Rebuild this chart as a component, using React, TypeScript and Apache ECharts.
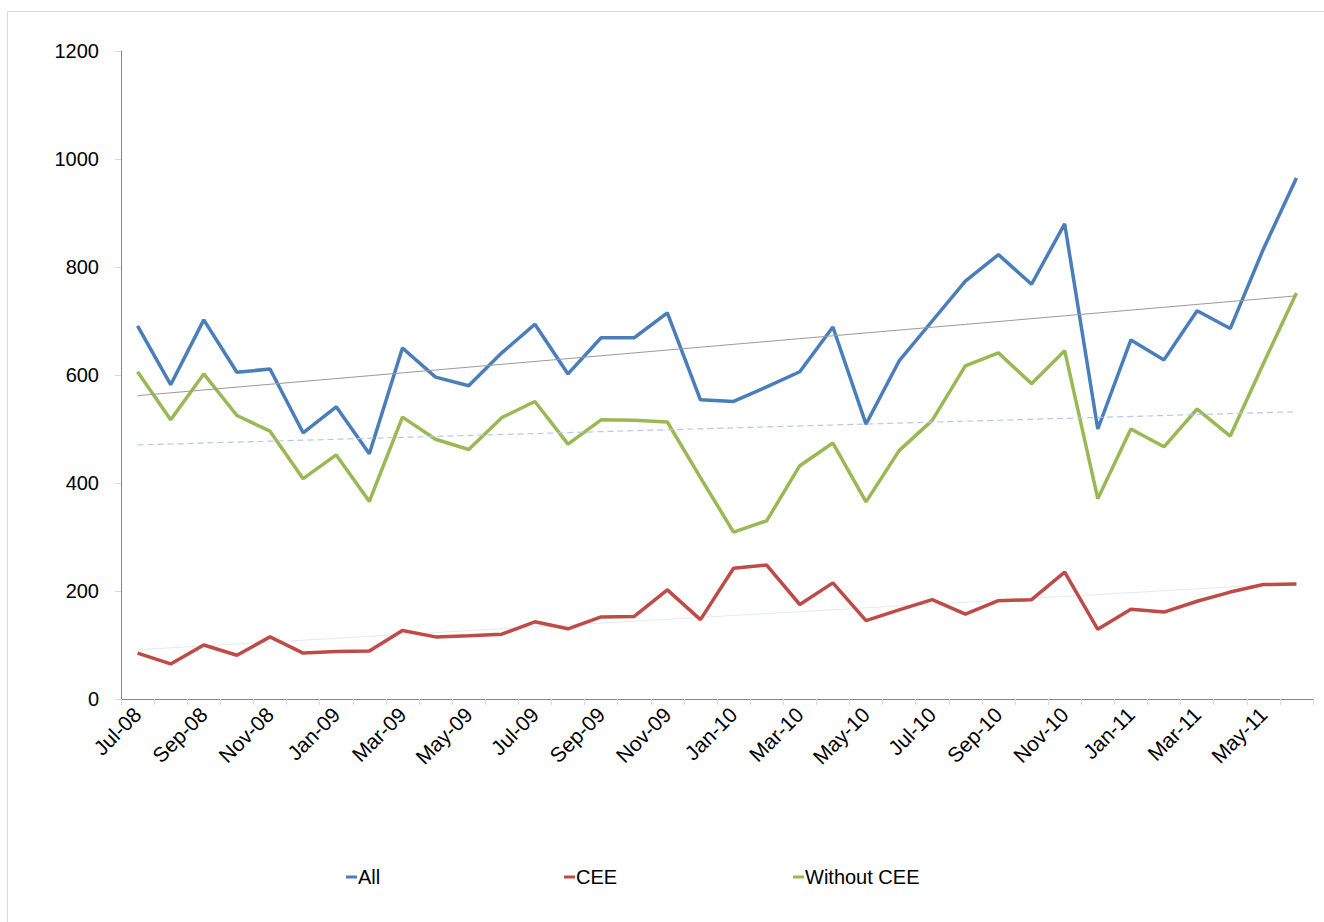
import React, { useEffect, useRef } from "react";
import * as echarts from "echarts";

const months = [
  "Jul-08", "Aug-08", "Sep-08", "Oct-08", "Nov-08", "Dec-08",
  "Jan-09", "Feb-09", "Mar-09", "Apr-09", "May-09", "Jun-09",
  "Jul-09", "Aug-09", "Sep-09", "Oct-09", "Nov-09", "Dec-09",
  "Jan-10", "Feb-10", "Mar-10", "Apr-10", "May-10", "Jun-10",
  "Jul-10", "Aug-10", "Sep-10", "Oct-10", "Nov-10", "Dec-10",
  "Jan-11", "Feb-11", "Mar-11", "Apr-11", "May-11", "Jun-11",
];

const allValues = [
  691, 582, 702, 605, 611, 493, 541, 454, 650, 596, 580, 641,
  694, 602, 669, 669, 715, 554, 551, 578, 606, 689, 509, 626,
  700, 774, 823, 768, 880, 500, 665, 628, 719, 686, 833, 965,
];

const ceeValues = [
  85, 65, 100, 81, 115, 85, 88, 89, 127, 115, 117, 120,
  143, 130, 152, 153, 202, 147, 242, 248, 175, 215, 145, 165,
  184, 157, 182, 184, 235, 129, 166, 161, 181, 198, 212, 213,
];

const withoutCeeValues = [
  606, 517, 602, 525, 496, 408, 452, 366, 522, 481, 462, 521,
  551, 472, 517, 516, 513, 410, 309, 330, 432, 474, 365, 460,
  516, 617, 641, 584, 645, 371, 500, 467, 537, 487, 621, 752,
];

const yTicks = [0, 200, 400, 600, 800, 1000, 1200];

// Least-squares linear trend, as a spreadsheet trendline computes it
function linearTrend(values: number[]): number[] {
  const n = values.length;
  let sx = 0, sy = 0, sxx = 0, sxy = 0;
  values.forEach((v, i) => {
    sx += i; sy += v; sxx += i * i; sxy += i * v;
  });
  const slope = (n * sxy - sx * sy) / (n * sxx - sx * sx);
  const intercept = (sy - slope * sx) / n;
  return values.map((_, i) => +(intercept + slope * i).toFixed(2));
}

const FONT = "'Liberation Sans', Arial, sans-serif";

export default function App() {
  const ref = useRef<HTMLDivElement>(null);
  useEffect(() => {
    document.body.style.margin = "0";
    if (!ref.current) return;
    const chart = echarts.init(ref.current, undefined, { renderer: "svg" });
    const legendText = { fontFamily: FONT, fontSize: 20, color: "#000" };
    const legendBase = {
      top: 862,
      icon: "rect",
      itemWidth: 11,
      itemHeight: 3,
      itemGap: 3,
      textStyle: { ...legendText, padding: [0, 0, 0, -4] },
      selectedMode: false,
    };
    chart.setOption({
      animation: false,
      backgroundColor: "#fff",
      graphic: [
        {
          type: "rect",
          shape: { x: 7.5, y: 11.5, width: 1330, height: 930 },
          style: { fill: "none", stroke: "#d9d9d9", lineWidth: 1 },
          silent: true,
        },
      ],
      grid: { left: 121, right: 11, top: 51, bottom: 223, containLabel: false },
      legend: [
        { ...legendBase, left: 341, data: ["All"] },
        { ...legendBase, left: 559, data: ["CEE"] },
        { ...legendBase, left: 788, data: ["Without CEE"] },
      ],
      xAxis: {
        type: "category",
        data: months,
        boundaryGap: true,
        axisLine: { lineStyle: { color: "#868686", width: 1 } },
        axisTick: {
          show: true,
          alignWithLabel: false,
          interval: 0,
          length: 6,
          lineStyle: { color: "#d9d9d9", width: 1 },
        },
        axisLabel: {
          interval: 1,
          rotate: 45,
          margin: 12,
          fontFamily: FONT,
          fontSize: 21,
          color: "#000",
        },
        splitLine: { show: false },
      },
      yAxis: {
        type: "value",
        min: yTicks[0],
        max: yTicks[yTicks.length - 1],
        interval: 200,
        axisLine: { show: true, lineStyle: { color: "#868686", width: 1 } },
        axisTick: { show: true, length: 6, lineStyle: { color: "#d9d9d9", width: 1 } },
        axisLabel: {
          margin: 22,
          fontFamily: FONT,
          fontSize: 20,
          color: "#000",
          formatter: (v: number) => String(v),
        },
        splitLine: { show: false },
      },
      series: [
        {
          name: "All",
          type: "line",
          data: allValues,
          symbol: "none",
          lineStyle: { color: "#4A7EBB", width: 3.5 },
          itemStyle: { color: "#4A7EBB" },
          z: 3,
        },
        {
          name: "CEE",
          type: "line",
          data: ceeValues,
          symbol: "none",
          lineStyle: { color: "#BE4B48", width: 3.5 },
          itemStyle: { color: "#BE4B48" },
          z: 3,
        },
        {
          name: "Without CEE",
          type: "line",
          data: withoutCeeValues,
          symbol: "none",
          lineStyle: { color: "#98B954", width: 3.5 },
          itemStyle: { color: "#98B954" },
          z: 3,
        },
        {
          name: "All trend",
          type: "line",
          data: linearTrend(allValues),
          symbol: "none",
          silent: true,
          lineStyle: { color: "#9a9a9a", width: 1 },
          z: 4,
        },
        {
          name: "CEE trend",
          type: "line",
          data: linearTrend(ceeValues),
          symbol: "none",
          silent: true,
          lineStyle: { color: "#e3e8f6", width: 1 },
          z: 2,
        },
        {
          name: "Without CEE trend",
          type: "line",
          data: linearTrend(withoutCeeValues),
          symbol: "none",
          silent: true,
          lineStyle: { color: "#b4c8ee", width: 1.2, type: [6, 4] },
          z: 4,
        },
      ],
    });
    return () => chart.dispose();
  }, []);
  return <div ref={ref} style={{ width: 1324, height: 922 }} />;
}
